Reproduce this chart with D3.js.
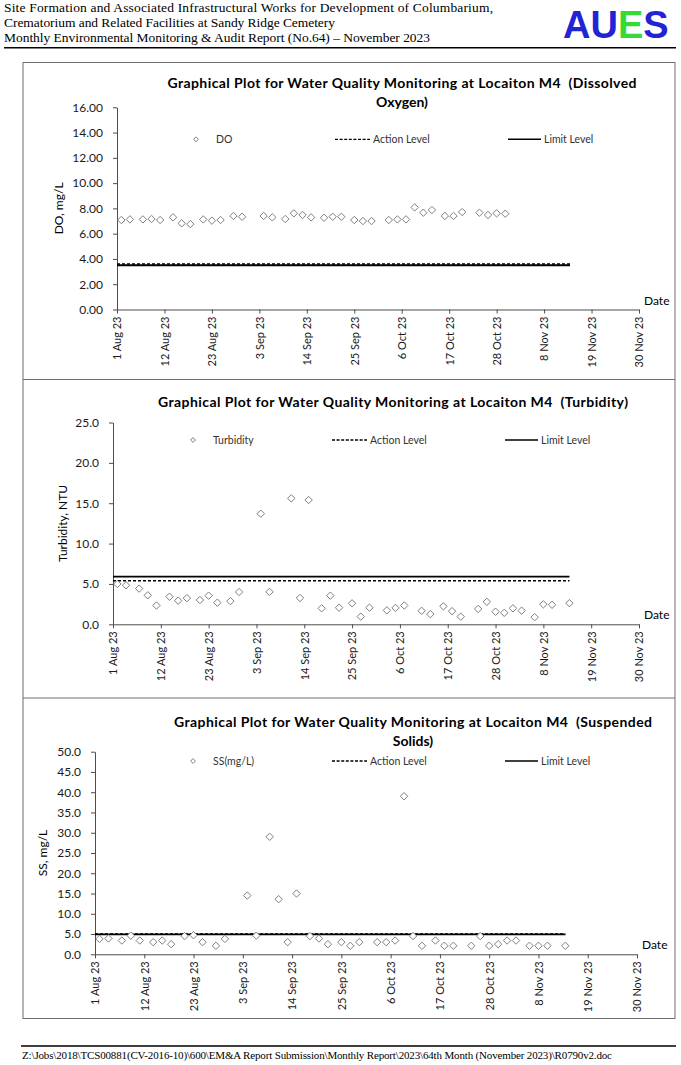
<!DOCTYPE html>
<html>
<head>
<meta charset="utf-8">
<script src="https://cdn.jsdelivr.net/npm/d3@7"></script>
<style>
  body { margin: 0; background: #fff; }
  svg text { white-space: pre; }
</style>
</head>
<body>
<div id="page"></div>
<script>
// ---- data ----
const xTickDates = ['2023-08-01', '2023-08-12', '2023-08-23', '2023-09-03', '2023-09-14', '2023-09-25',
  '2023-10-06', '2023-10-17', '2023-10-28', '2023-11-08', '2023-11-19', '2023-11-30'];
const xTickLabels = ['1 Aug 23', '12 Aug 23', '23 Aug 23', '3 Sep 23', '14 Sep 23', '25 Sep 23',
  '6 Oct 23', '17 Oct 23', '28 Oct 23', '8 Nov 23', '19 Nov 23', '30 Nov 23'];
const levelDates = ['2023-08-01', '2023-11-14'];

const doDates = ['2023-08-02', '2023-08-04', '2023-08-07', '2023-08-09', '2023-08-11', '2023-08-14',
  '2023-08-16', '2023-08-18', '2023-08-21', '2023-08-23', '2023-08-25', '2023-08-28', '2023-08-30',
  '2023-09-04', '2023-09-06', '2023-09-09', '2023-09-11', '2023-09-13', '2023-09-15', '2023-09-18',
  '2023-09-20', '2023-09-22', '2023-09-25', '2023-09-27', '2023-09-29', '2023-10-03', '2023-10-05',
  '2023-10-07', '2023-10-09', '2023-10-11', '2023-10-13', '2023-10-16', '2023-10-18', '2023-10-20',
  '2023-10-24', '2023-10-26', '2023-10-28', '2023-10-30'];
const doValues = [7.08, 7.13, 7.13, 7.16, 7.08, 7.29, 6.82, 6.76, 7.13, 7.03, 7.08, 7.40, 7.34,
  7.40, 7.29, 7.16, 7.61, 7.48, 7.29, 7.26, 7.34, 7.34, 7.08, 7.00, 7.00, 7.08, 7.13,
  7.13, 8.08, 7.66, 7.87, 7.40, 7.40, 7.71, 7.66, 7.48, 7.61, 7.58];
const doAction = 3.6, doLimit = 3.5;

const turbDates = ['2023-08-02', '2023-08-04', '2023-08-07', '2023-08-09', '2023-08-11', '2023-08-14',
  '2023-08-16', '2023-08-18', '2023-08-21', '2023-08-23', '2023-08-25', '2023-08-28', '2023-08-30',
  '2023-09-04', '2023-09-06', '2023-09-11', '2023-09-13', '2023-09-15', '2023-09-18', '2023-09-20',
  '2023-09-22', '2023-09-25', '2023-09-27', '2023-09-29', '2023-10-03', '2023-10-05', '2023-10-07',
  '2023-10-11', '2023-10-13', '2023-10-16', '2023-10-18', '2023-10-20', '2023-10-24', '2023-10-26',
  '2023-10-28', '2023-10-30', '2023-11-01', '2023-11-03', '2023-11-06', '2023-11-08', '2023-11-10',
  '2023-11-14'];
const turbValues = [4.99, 4.83, 4.42, 3.59, 2.33, 3.42, 2.93, 3.24, 3.01, 3.55, 2.68, 2.87, 4.0,
  13.7, 4.02, 15.6, 3.26, 15.4, 1.98, 3.55, 2.06, 2.6, 0.95, 2.06, 1.73, 2.03, 2.33,
  1.67, 1.26, 2.23, 1.63, 0.95, 1.9, 2.78, 1.56, 1.42, 1.98, 1.69, 0.88, 2.48, 2.42,
  2.62];
const turbAction = 5.4, turbLimit = 5.9;

const ssDates = ['2023-08-02', '2023-08-04', '2023-08-07', '2023-08-09', '2023-08-11', '2023-08-14',
  '2023-08-16', '2023-08-18', '2023-08-21', '2023-08-23', '2023-08-25', '2023-08-28', '2023-08-30',
  '2023-09-04', '2023-09-06', '2023-09-09', '2023-09-11', '2023-09-13', '2023-09-15', '2023-09-18',
  '2023-09-20', '2023-09-22', '2023-09-25', '2023-09-27', '2023-09-29', '2023-10-03', '2023-10-05',
  '2023-10-07', '2023-10-09', '2023-10-11', '2023-10-13', '2023-10-16', '2023-10-18', '2023-10-20',
  '2023-10-24', '2023-10-26', '2023-10-28', '2023-10-30', '2023-11-01', '2023-11-03', '2023-11-06',
  '2023-11-08', '2023-11-10', '2023-11-14'];
const ssValues = [3.8, 3.9, 3.4, 4.6, 3.4, 3.0, 3.4, 2.5, 4.5, 4.7, 3.0, 2.1, 3.8,
  14.5, 4.6, 29.0, 13.6, 3.0, 15.0, 4.5, 3.9, 2.5, 3.0, 2.1, 3.0, 3.0, 3.0,
  3.4, 39.0, 4.5, 2.1, 3.4, 2.1, 2.1, 2.1, 4.5, 2.1, 2.5, 3.4, 3.4, 2.1,
  2.1, 2.1, 2.1];
const ssAction = 5.0, ssLimit = 4.9;

const headerLines = [
  'Site Formation and Associated Infrastructural Works for Development of Columbarium,',
  'Crematorium and Related Facilities at Sandy Ridge Cemetery',
  'Monthly Environmental Monitoring & Audit Report (No.64) \u2013 November 2023'
];
const logoLetters = ['A', 'U', 'E', 'S'];
const footerText = 'Z:\\Jobs\\2018\\TCS00881(CV-2016-10)\\600\\EM&A Report Submission\\Monthly Report\\2023\\64th Month (November 2023)\\R0790v2.doc';

// ---- page ----
const W = 681, H = 1065;
const parseDate = d3.utcParse('%Y-%m-%d');
const chartFont = 'Lato, "Open Sans", sans-serif';
const serif = '"Liberation Serif", "Times New Roman", serif';

const svg = d3.select('#page').append('svg')
    .attr('width', W)
    .attr('height', H)
    .attr('viewBox', [0, 0, W, H].join(' '));

// header text
const headerWidths = [489, 331, 426];
svg.selectAll('text.header')
  .data(headerLines)
  .enter()
  .append('text')
    .attr('class', 'header')
    .attr('x', 4)
    .attr('y', (d, i) => 12 + i * 15)
    .attr('textLength', (d, i) => headerWidths[i])
    .attr('lengthAdjust', 'spacing')
    .style('font-family', serif)
    .style('font-size', '13.5px')
    .text(d => d);

// AUES logo, one text per letter so each sits after the one before
const logoColours = ['#2323d6', '#2323d6', '#36d936', '#2323d6'];
let logoX = 563;
logoLetters.forEach((ch, i) => {
  const t = svg.append('text')
      .attr('x', logoX)
      .attr('y', 38)
      .attr('fill', logoColours[i])
      .style('font-family', '"Liberation Sans", Arial, sans-serif')
      .style('font-weight', 'bold')
      .style('font-size', '38px')
      .text(ch);
  logoX += t.node().getComputedTextLength();
});

svg.append('line')
    .attr('x1', 4).attr('x2', 676)
    .attr('y1', 47.8).attr('y2', 47.8)
    .attr('stroke', '#000')
    .attr('stroke-width', 1.5);

// frame round the three plots
const frame = svg.append('g')
    .attr('fill', 'none')
    .attr('stroke', '#6e6e6e')
    .attr('stroke-width', 1);
frame.append('rect')
    .attr('x', 23).attr('y', 62.5)
    .attr('width', 652).attr('height', 956);
[379.5, 698].forEach(y => {
  frame.append('line').attr('x1', 23).attr('x2', 675).attr('y1', y).attr('y2', y);
});

// footer
svg.append('line')
    .attr('x1', 21).attr('x2', 676)
    .attr('y1', 1046).attr('y2', 1046)
    .attr('stroke', '#000')
    .attr('stroke-width', 1.3);
svg.append('text')
    .attr('x', 22)
    .attr('y', 1059)
    .attr('textLength', 590)
    .attr('lengthAdjust', 'spacing')
    .style('font-family', serif)
    .style('font-size', '11px')
    .text(footerText);

const diamond = r => `M0,${-r}L${r},0L0,${r}L${-r},0Z`;

function drawChart(cfg) {
  const g = svg.append('g');

  const x = d3.scaleUtc()
    .domain([parseDate(xTickDates[0]), parseDate(xTickDates[xTickDates.length - 1])])
    .range([cfg.left, cfg.right]);
  const y = d3.scaleLinear()
    .domain([0, cfg.yMax])
    .range([cfg.bottom, cfg.top]);

  // title
  cfg.title.forEach((t, i) => {
    g.append('text')
      .attr('x', cfg.titleX)
      .attr('y', cfg.titleY + i * 19.5)
      .attr('text-anchor', 'middle')
      .attr('textLength', i === 0 ? cfg.titleWidth : null)
      .attr('lengthAdjust', 'spacing')
      .style('font-family', chartFont)
      .style('font-weight', 'bold')
      .style('font-size', '14px')
      .text(t);
  });

  // y axis
  const yAxis = g.append('g')
      .attr('transform', 'translate(' + cfg.left + ',0)')
      .call(d3.axisLeft(y)
        .tickValues(d3.range(0, cfg.yMax + 0.001, cfg.yStep))
        .tickFormat(d3.format(cfg.yFmt))
        .tickSize(4)
        .tickSizeOuter(0)
        .tickPadding(10));

  // x axis
  const xAxis = g.append('g')
      .attr('transform', 'translate(0,' + cfg.bottom + ')')
      .call(d3.axisBottom(x)
        .tickValues(xTickDates.map(parseDate))
        .tickFormat((d, i) => xTickLabels[i])
        .tickSize(4)
        .tickSizeOuter(0));
  xAxis.selectAll('text')
      .attr('y', 0)
      .attr('x', -7)
      .attr('dy', '0.35em')
      .attr('transform', 'rotate(-90)')
      .style('text-anchor', 'end');

  [yAxis, xAxis].forEach(a => {
    a.selectAll('path, line').attr('stroke', '#4d4d4d');
    a.selectAll('text')
      .attr('fill', '#1a1a1a')
      .style('font-family', chartFont);
  });
  yAxis.selectAll('text').style('font-size', '12px');
  xAxis.selectAll('text').style('font-size', '11px');

  // axis titles
  g.append('text')
      .attr('transform', 'translate(' + cfg.yLabelX + ',' + ((cfg.top + cfg.bottom) / 2) + ') rotate(-90)')
      .attr('text-anchor', 'middle')
      .style('font-family', chartFont)
      .style('font-size', '12px')
      .text(cfg.yLabel);
  g.append('text')
      .attr('x', cfg.right + 5)
      .attr('y', cfg.bottom - 5)
      .style('font-family', chartFont)
      .style('font-size', '12px')
      .text('Date');

  // action / limit levels
  const line = d3.line()
      .x(d => x(d.date))
      .y(d => y(d.value));
  const levelLine = v => levelDates.map(s => ({ date: parseDate(s), value: v }));

  g.append('path')
      .attr('d', line(levelLine(cfg.limit)))
      .attr('fill', 'none')
      .attr('stroke', '#000')
      .attr('stroke-width', 1.8);
  g.append('path')
      .attr('d', line(levelLine(cfg.action)))
      .attr('fill', 'none')
      .attr('stroke', '#000')
      .attr('stroke-width', 1.5)
      .attr('stroke-dasharray', '3,2');

  // monitoring results
  const points = cfg.dates.map((s, i) => ({ date: parseDate(s), value: cfg.values[i] }));
  g.selectAll('path.pt')
    .data(points)
    .enter()
    .append('path')
      .attr('class', 'pt')
      .attr('transform', d => 'translate(' + x(d.date) + ',' + y(d.value) + ')')
      .attr('d', diamond(3.7))
      .attr('fill', '#fff')
      .attr('stroke', '#7f7f7f')
      .attr('stroke-width', 1);

  // legend
  const lg = g.append('g')
      .attr('transform', 'translate(0,' + cfg.legendY + ')')
      .style('font-family', chartFont)
      .style('font-size', '10.5px')
      .attr('fill', '#333');
  lg.append('path')
      .attr('transform', 'translate(' + cfg.legendX + ',0)')
      .attr('d', diamond(2.4))
      .attr('fill', '#fff')
      .attr('stroke', '#7f7f7f');
  lg.append('text')
      .attr('x', cfg.legendX + 20)
      .attr('dy', '0.35em')
      .text(cfg.seriesName);
  lg.append('line')
      .attr('x1', cfg.legendX + 139).attr('x2', cfg.legendX + 174)
      .attr('stroke', '#000')
      .attr('stroke-width', 1.3)
      .attr('stroke-dasharray', '3,1.6');
  lg.append('text')
      .attr('x', cfg.legendX + 177)
      .attr('dy', '0.35em')
      .text('Action Level');
  lg.append('line')
      .attr('x1', cfg.legendX + 312).attr('x2', cfg.legendX + 345)
      .attr('stroke', '#000')
      .attr('stroke-width', 1.6);
  lg.append('text')
      .attr('x', cfg.legendX + 348)
      .attr('dy', '0.35em')
      .text('Limit Level');
}

drawChart({
  title: ['Graphical Plot for Water Quality Monitoring at Locaiton M4  (Dissolved', 'Oxygen)'],
  titleX: 402, titleY: 87.5, titleWidth: 469,
  left: 117, right: 639, top: 107.3, bottom: 309.5,
  yMax: 16, yStep: 2, yFmt: '.2f', yLabel: 'DO, mg/L', yLabelX: 63,
  dates: doDates, values: doValues, action: doAction, limit: doLimit,
  seriesName: 'DO', legendX: 196, legendY: 139.3
});

drawChart({
  title: ['Graphical Plot for Water Quality Monitoring at Locaiton M4  (Turbidity)'],
  titleX: 393, titleY: 406.5, titleWidth: 470,
  left: 113, right: 639, top: 422.5, bottom: 624.3,
  yMax: 25, yStep: 5, yFmt: '.1f', yLabel: 'Turbidity, NTU', yLabelX: 67,
  dates: turbDates, values: turbValues, action: turbAction, limit: turbLimit,
  seriesName: 'Turbidity', legendX: 193, legendY: 440
});

drawChart({
  title: ['Graphical Plot for Water Quality Monitoring at Locaiton M4  (Suspended', 'Solids)'],
  titleX: 413, titleY: 726.5, titleWidth: 478,
  left: 95, right: 637, top: 751.7, bottom: 954.3,
  yMax: 50, yStep: 5, yFmt: '.1f', yLabel: 'SS, mg/L', yLabelX: 47,
  dates: ssDates, values: ssValues, action: ssAction, limit: ssLimit,
  seriesName: 'SS(mg/L)', legendX: 193, legendY: 761
});
</script>
</body>
</html>
